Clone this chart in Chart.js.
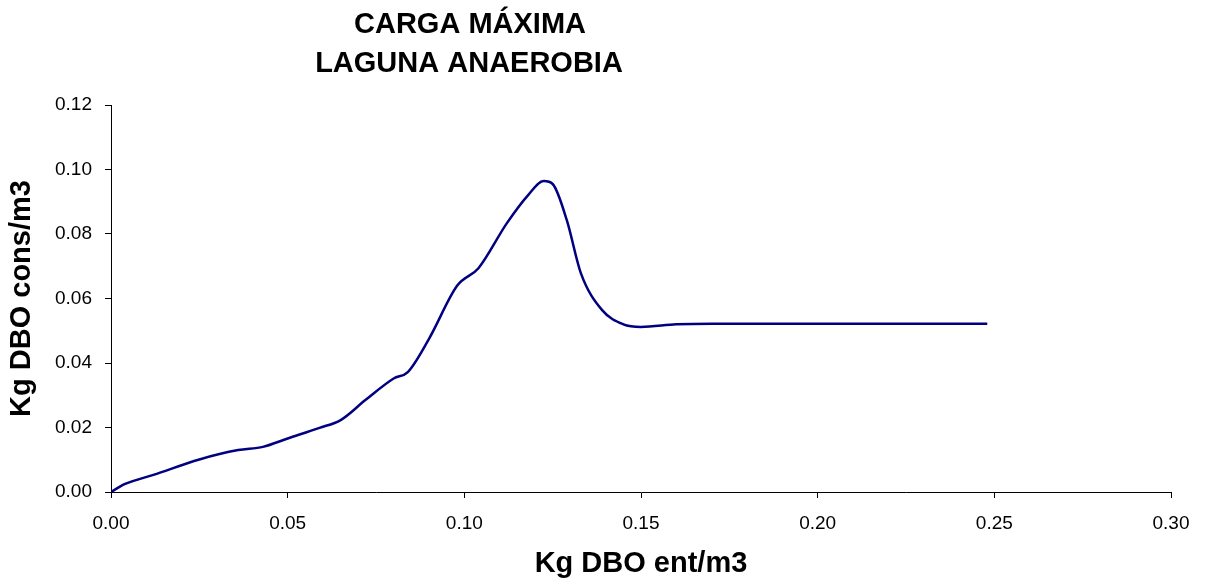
<!DOCTYPE html>
<html>
<head>
<meta charset="utf-8">
<script src="https://cdn.jsdelivr.net/npm/chart.js@4/dist/chart.umd.min.js"></script>
<style>
  html, body { margin: 0; padding: 0; background: #fff; }
  #wrap { position: relative; width: 1206px; height: 584px; }
</style>
</head>
<body>
<div id="wrap"><canvas id="c" width="1206" height="584"></canvas></div>
<script>
const titleLines = ['CARGA MÁXIMA', 'LAGUNA ANAEROBIA'];
const xTitle = 'Kg DBO ent/m3';
const yTitle = 'Kg DBO cons/m3';
const xValues = [0, 0.004, 0.012, 0.025, 0.036, 0.043, 0.050, 0.059, 0.065, 0.072, 0.080, 0.084, 0.090, 0.098, 0.104, 0.112, 0.118, 0.1225, 0.125, 0.129, 0.133, 0.139, 0.145, 0.150, 0.160, 0.170, 0.248];
const yValues = [0, 0.0025, 0.0053, 0.0101, 0.0130, 0.0140, 0.0166, 0.0199, 0.0223, 0.0285, 0.0352, 0.0372, 0.0475, 0.0640, 0.0694, 0.0833, 0.0920, 0.0964, 0.0955, 0.0843, 0.0678, 0.0564, 0.0520, 0.0512, 0.0520, 0.0522, 0.0522];
const xMin = 0, xMax = 0.30, xStep = 0.05;
const yMin = 0, yMax = 0.12, yStep = 0.02;

const points = xValues.map((x, i) => ({ x: x, y: yValues[i] }));

const titlePlugin = {
  id: 'customTitle',
  afterDraw(chart) {
    const ctx = chart.ctx;
    ctx.save();
    ctx.fillStyle = '#000';
    ctx.font = 'bold 29px "Liberation Sans", Arial, sans-serif';
    ctx.textAlign = 'center';
    ctx.textBaseline = 'alphabetic';
    ctx.fillText(titleLines[0], 470, 33);
    ctx.fillText(titleLines[1], 469, 72);
    ctx.restore();
  }
};

new Chart(document.getElementById('c'), {
  type: 'scatter',
  data: {
    datasets: [{
      data: points,
      showLine: true,
      borderColor: '#000080',
      borderWidth: 2.5,
      pointRadius: 0,
      pointHoverRadius: 0,
      fill: false,
      cubicInterpolationMode: 'monotone'
    }]
  },
  options: {
    responsive: false,
    animation: false,
    events: [],
    layout: { padding: { top: 105, right: 35, left: 0, bottom: 0 } },
    plugins: { legend: { display: false }, tooltip: { enabled: false }, title: { display: false } },
    scales: {
      x: {
        type: 'linear',
        min: xMin, max: xMax,
        afterFit(s) { s.height = 92; },
        ticks: {
          stepSize: xStep,
          color: '#000',
          font: { family: '"Liberation Sans", Arial, sans-serif', size: 19 },
          padding: 14,
          maxRotation: 0,
          callback: v => v.toFixed(2)
        },
        grid: { display: true, drawOnChartArea: false, drawTicks: true, tickLength: 6, color: '#000', lineWidth: 1 },
        border: { display: true, color: '#000', width: 1 },
        title: {
          display: true, text: xTitle, color: '#000',
          font: { family: '"Liberation Sans", Arial, sans-serif', size: 29, weight: 'bold' },
          padding: { top: 0, bottom: 3 }
        }
      },
      y: {
        type: 'linear',
        min: yMin, max: yMax,
        afterFit(s) { s.width = 111; },
        ticks: {
          stepSize: yStep,
          color: '#000',
          font: { family: '"Liberation Sans", Arial, sans-serif', size: 19 },
          padding: 13,
          callback: v => v.toFixed(2)
        },
        grid: { display: true, drawOnChartArea: false, drawTicks: true, tickLength: 6, color: '#000', lineWidth: 1 },
        border: { display: true, color: '#000', width: 1 },
        title: {
          display: true, text: yTitle, color: '#000',
          font: { family: '"Liberation Sans", Arial, sans-serif', size: 29, weight: 'bold' },
          padding: { top: 5, bottom: 0 }
        }
      }
    }
  },
  plugins: [titlePlugin]
});
</script>
</body>
</html>
